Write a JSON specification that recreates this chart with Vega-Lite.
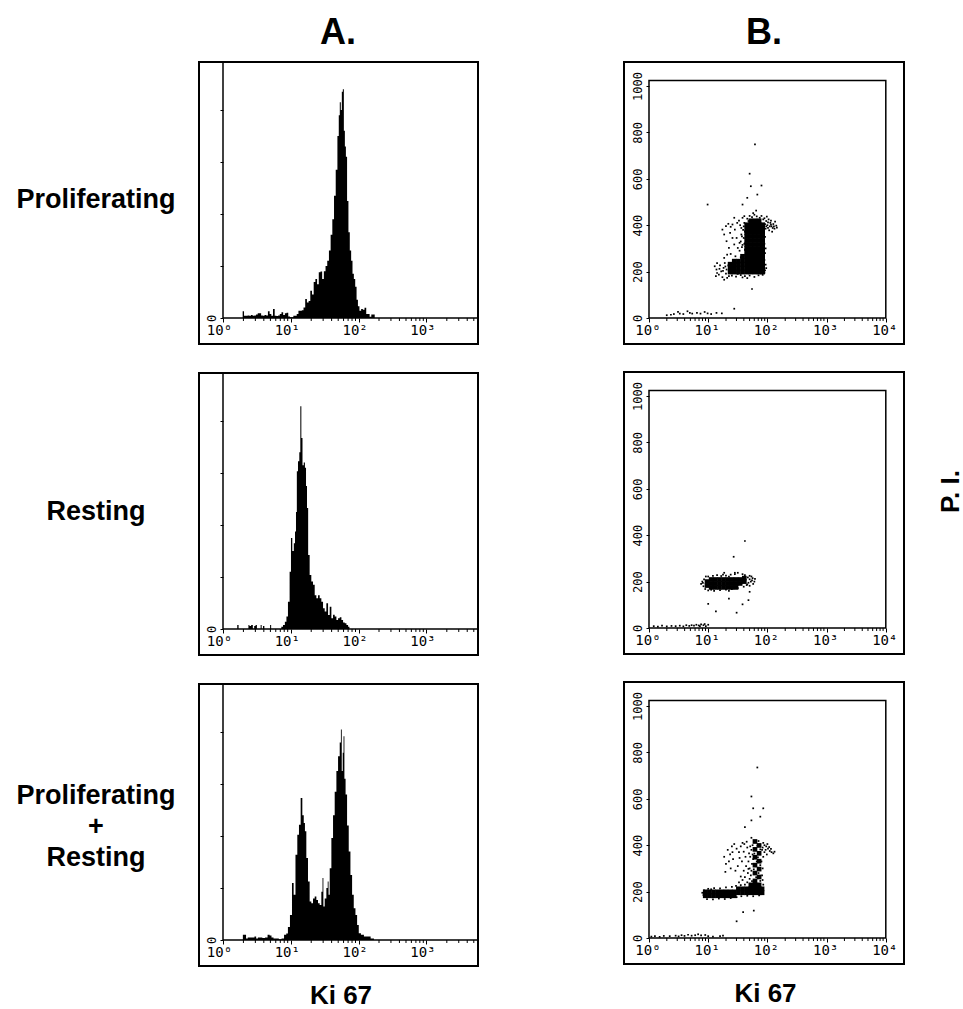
{
  "$schema": "https://vega.github.io/schema/vega-lite/v6.json",
  "background": "white",
  "padding": {"left": 14, "top": 13, "right": 0, "bottom": 0},
  "config": {
    "view": {"stroke": "black", "strokeWidth": 2},
    "axis": {"grid": false, "domain": false, "labelColor": "black", "tickColor": "black", "labelFont": "DejaVu Sans Mono", "titleFont": "Liberation Sans", "titleFontWeight": "bold", "titleColor": "black", "labelOverlap": false, "labelFlush": false, "labelBound": false, "tickWidth": 1}
  },
  "datasets": {
    "mta": [{"t":0.30103},{"t":0.47712},{"t":0.60206},{"t":0.69897},{"t":0.77815},{"t":0.8451},{"t":0.90309},{"t":0.95424},{"t":1.30103},{"t":1.47712},{"t":1.60206},{"t":1.69897},{"t":1.77815},{"t":1.8451},{"t":1.90309},{"t":1.95424},{"t":2.30103},{"t":2.47712},{"t":2.60206},{"t":2.69897},{"t":2.77815},{"t":2.8451},{"t":2.90309},{"t":2.95424},{"t":3.30103},{"t":3.47712},{"t":3.60206},{"t":3.69897}],
    "mtb": [{"t":0.30103},{"t":0.47712},{"t":0.60206},{"t":0.69897},{"t":0.77815},{"t":0.8451},{"t":0.90309},{"t":0.95424},{"t":1.30103},{"t":1.47712},{"t":1.60206},{"t":1.69897},{"t":1.77815},{"t":1.8451},{"t":1.90309},{"t":1.95424},{"t":2.30103},{"t":2.47712},{"t":2.60206},{"t":2.69897},{"t":2.77815},{"t":2.8451},{"t":2.90309},{"t":2.95424},{"t":3.30103},{"t":3.47712},{"t":3.60206},{"t":3.69897},{"t":3.77815},{"t":3.8451},{"t":3.90309},{"t":3.95424}],
    "h1": [
      {"x":0.28,"n":0},{"x":0.30,"n":2.6},{"x":0.32,"n":0.9},{"x":0.35,"n":0.9},{"x":0.375,"n":1.0},{"x":0.40,"n":0.9},{"x":0.425,"n":1.2},{"x":0.45,"n":0.9},{"x":0.475,"n":1.0},{"x":0.50,"n":1.3},{"x":0.525,"n":1.8},{"x":0.55,"n":1.8},{"x":0.575,"n":1.0},{"x":0.60,"n":0.9},{"x":0.625,"n":1.2},{"x":0.65,"n":1.0},{"x":0.675,"n":2.6},{"x":0.70,"n":1.5},{"x":0.725,"n":0.9},{"x":0.75,"n":3.5},{"x":0.775,"n":0.9},{"x":0.80,"n":0.8},{"x":0.825,"n":1.0},{"x":0.85,"n":1.5},{"x":0.875,"n":2.2},{"x":0.90,"n":1.2},{"x":0.925,"n":1.8},{"x":0.95,"n":2.0},{"x":0.975,"n":0.6},{"x":1.00,"n":0.3},{"x":1.025,"n":0.3},{"x":1.05,"n":0.9},{"x":1.075,"n":0.9},{"x":1.10,"n":1.5},{"x":1.125,"n":2.8},{"x":1.15,"n":2.8},{"x":1.175,"n":3.0},{"x":1.20,"n":4.0},{"x":1.225,"n":7.3},{"x":1.25,"n":6.0},{"x":1.275,"n":6.5},{"x":1.30,"n":10.5},{"x":1.325,"n":9.0},{"x":1.35,"n":13.8},{"x":1.375,"n":15.0},{"x":1.40,"n":13.0},{"x":1.425,"n":17.6},{"x":1.45,"n":17.9},{"x":1.475,"n":15.0},{"x":1.50,"n":18.0},{"x":1.525,"n":20.0},{"x":1.55,"n":22},{"x":1.575,"n":26},{"x":1.60,"n":32},{"x":1.625,"n":38},{"x":1.65,"n":47},{"x":1.675,"n":57},{"x":1.70,"n":70},{"x":1.715,"n":78},{"x":1.73,"n":83},{"x":1.745,"n":80},{"x":1.76,"n":87},{"x":1.775,"n":88},{"x":1.79,"n":72},{"x":1.805,"n":66},{"x":1.82,"n":62},{"x":1.84,"n":45},{"x":1.86,"n":33},{"x":1.88,"n":26},{"x":1.90,"n":22},{"x":1.92,"n":17},{"x":1.94,"n":15},{"x":1.96,"n":12},{"x":1.98,"n":7},{"x":2.00,"n":4.5},{"x":2.025,"n":2.8},{"x":2.05,"n":3.5},{"x":2.075,"n":3.2},{"x":2.10,"n":3.9},{"x":2.125,"n":1.5},{"x":2.15,"n":1.5},{"x":2.175,"n":0.5},{"x":2.20,"n":1.3},{"x":2.225,"n":1.3},{"x":2.25,"n":0}
    ],
    "h2": [
      {"x":0.20,"n":0},{"x":0.22,"n":1.5},{"x":0.24,"n":0},{"x":0.37,"n":0},{"x":0.38,"n":1.5},{"x":0.40,"n":1.2},{"x":0.43,"n":1.5},{"x":0.45,"n":0},{"x":0.47,"n":1.2},{"x":0.49,"n":1.5},{"x":0.51,"n":0},{"x":0.55,"n":0},{"x":0.56,"n":1.5},{"x":0.58,"n":0},{"x":0.60,"n":1.2},{"x":0.62,"n":0},{"x":0.69,"n":0},{"x":0.70,"n":1.5},{"x":0.72,"n":0},{"x":0.85,"n":0},{"x":0.87,"n":0.9},{"x":0.90,"n":1.5},{"x":0.925,"n":2.8},{"x":0.946,"n":4.8},{"x":0.97,"n":10.5},{"x":0.995,"n":22},{"x":1.01,"n":35},{"x":1.034,"n":30},{"x":1.055,"n":33},{"x":1.069,"n":37.5},{"x":1.084,"n":45},{"x":1.094,"n":60.7},{"x":1.118,"n":64.5},{"x":1.133,"n":68},{"x":1.148,"n":85.7},{"x":1.163,"n":73.5},{"x":1.182,"n":63},{"x":1.20,"n":64},{"x":1.217,"n":62},{"x":1.232,"n":55},{"x":1.246,"n":46.5},{"x":1.266,"n":28.5},{"x":1.29,"n":20.8},{"x":1.315,"n":18.3},{"x":1.34,"n":17},{"x":1.365,"n":13},{"x":1.389,"n":11.8},{"x":1.414,"n":13},{"x":1.438,"n":11.8},{"x":1.463,"n":10.5},{"x":1.488,"n":8},{"x":1.512,"n":6.7},{"x":1.537,"n":9.9},{"x":1.562,"n":5.4},{"x":1.586,"n":8.6},{"x":1.611,"n":4.1},{"x":1.635,"n":5.5},{"x":1.66,"n":4.8},{"x":1.685,"n":3.5},{"x":1.709,"n":4.1},{"x":1.734,"n":4.5},{"x":1.759,"n":3.5},{"x":1.783,"n":2.5},{"x":1.808,"n":2.2},{"x":1.833,"n":1.5},{"x":1.857,"n":0.9},{"x":1.872,"n":0}
    ],
    "h3": [
      {"x":0.24,"n":0},{"x":0.256,"n":0},{"x":0.33,"n":2},{"x":0.35,"n":0.6},{"x":0.38,"n":1},{"x":0.41,"n":1},{"x":0.45,"n":1},{"x":0.478,"n":1.3},{"x":0.50,"n":0.6},{"x":0.53,"n":1},{"x":0.56,"n":1},{"x":0.60,"n":0.8},{"x":0.64,"n":1},{"x":0.675,"n":2},{"x":0.70,"n":1.7},{"x":0.73,"n":1},{"x":0.76,"n":0.6},{"x":0.80,"n":0.6},{"x":0.847,"n":0.3},{"x":0.88,"n":0.6},{"x":0.921,"n":2},{"x":0.945,"n":2.5},{"x":0.970,"n":5},{"x":1.005,"n":9.6},{"x":1.03,"n":21.9},{"x":1.054,"n":17.4},{"x":1.084,"n":32.8},{"x":1.108,"n":40.5},{"x":1.133,"n":44.3},{"x":1.158,"n":54.6},{"x":1.182,"n":48},{"x":1.20,"n":45},{"x":1.217,"n":41.8},{"x":1.241,"n":31.5},{"x":1.266,"n":22.5},{"x":1.29,"n":14.8},{"x":1.315,"n":14.1},{"x":1.34,"n":16},{"x":1.365,"n":16.7},{"x":1.389,"n":15.4},{"x":1.414,"n":14.1},{"x":1.438,"n":13.5},{"x":1.463,"n":18.6},{"x":1.473,"n":23.8},{"x":1.488,"n":12.9},{"x":1.512,"n":16},{"x":1.537,"n":20},{"x":1.552,"n":22.5},{"x":1.562,"n":17.4},{"x":1.586,"n":27.6},{"x":1.611,"n":39.2},{"x":1.635,"n":48},{"x":1.66,"n":57},{"x":1.685,"n":65},{"x":1.709,"n":70.7},{"x":1.734,"n":76},{"x":1.744,"n":81},{"x":1.759,"n":65},{"x":1.773,"n":72},{"x":1.783,"n":78.4},{"x":1.798,"n":62},{"x":1.818,"n":56},{"x":1.842,"n":44},{"x":1.867,"n":34},{"x":1.892,"n":25},{"x":1.916,"n":17.4},{"x":1.941,"n":12.2},{"x":1.966,"n":9.6},{"x":1.99,"n":5.8},{"x":2.015,"n":2.6},{"x":2.054,"n":2},{"x":2.103,"n":1.3},{"x":2.153,"n":1.3},{"x":2.202,"n":0.6},{"x":2.25,"n":0}
    ],
    "s1": [
      {"x":1.37,"y":198,"k":"c"},{"x":1.44,"y":198,"k":"c"},{"x":1.51,"y":198,"k":"c"},{"x":1.58,"y":198,"k":"c"},{"x":1.65,"y":198,"k":"c"},{"x":1.72,"y":198,"k":"c"},{"x":1.79,"y":198,"k":"c"},{"x":1.86,"y":198,"k":"c"},{"x":1.92,"y":198,"k":"c"},
      {"x":1.37,"y":215,"k":"c"},{"x":1.44,"y":215,"k":"c"},{"x":1.51,"y":215,"k":"c"},{"x":1.58,"y":215,"k":"c"},{"x":1.65,"y":215,"k":"c"},{"x":1.72,"y":215,"k":"c"},{"x":1.79,"y":215,"k":"c"},{"x":1.86,"y":215,"k":"c"},{"x":1.92,"y":215,"k":"c"},
      {"x":1.37,"y":232,"k":"c"},{"x":1.44,"y":232,"k":"c"},{"x":1.51,"y":232,"k":"c"},{"x":1.58,"y":232,"k":"c"},{"x":1.65,"y":232,"k":"c"},{"x":1.72,"y":232,"k":"c"},{"x":1.79,"y":232,"k":"c"},{"x":1.86,"y":232,"k":"c"},{"x":1.92,"y":232,"k":"c"},
      {"x":1.44,"y":245,"k":"c"},{"x":1.51,"y":245,"k":"c"},{"x":1.58,"y":249,"k":"c"},{"x":1.58,"y":266,"k":"c"},
      {"x":1.65,"y":249,"k":"c"},{"x":1.65,"y":266,"k":"c"},{"x":1.65,"y":283,"k":"c"},{"x":1.65,"y":300,"k":"c"},{"x":1.65,"y":317,"k":"c"},{"x":1.65,"y":334,"k":"c"},{"x":1.65,"y":351,"k":"c"},{"x":1.65,"y":368,"k":"c"},{"x":1.65,"y":385,"k":"c"},{"x":1.65,"y":402,"k":"c"},
      {"x":1.72,"y":249,"k":"c"},{"x":1.72,"y":266,"k":"c"},{"x":1.72,"y":283,"k":"c"},{"x":1.72,"y":300,"k":"c"},{"x":1.72,"y":317,"k":"c"},{"x":1.72,"y":334,"k":"c"},{"x":1.72,"y":351,"k":"c"},{"x":1.72,"y":368,"k":"c"},{"x":1.72,"y":385,"k":"c"},{"x":1.72,"y":402,"k":"c"},{"x":1.72,"y":419,"k":"c"},
      {"x":1.79,"y":249,"k":"c"},{"x":1.79,"y":266,"k":"c"},{"x":1.79,"y":283,"k":"c"},{"x":1.79,"y":300,"k":"c"},{"x":1.79,"y":317,"k":"c"},{"x":1.79,"y":334,"k":"c"},{"x":1.79,"y":351,"k":"c"},{"x":1.79,"y":368,"k":"c"},{"x":1.79,"y":385,"k":"c"},{"x":1.79,"y":402,"k":"c"},{"x":1.79,"y":419,"k":"c"},
      {"x":1.86,"y":249,"k":"c"},{"x":1.86,"y":266,"k":"c"},{"x":1.86,"y":283,"k":"c"},{"x":1.86,"y":300,"k":"c"},{"x":1.86,"y":317,"k":"c"},{"x":1.86,"y":334,"k":"c"},{"x":1.86,"y":351,"k":"c"},{"x":1.86,"y":368,"k":"c"},{"x":1.86,"y":385,"k":"c"},{"x":1.86,"y":402,"k":"c"},{"x":1.86,"y":419,"k":"c"},
      {"x":1.92,"y":249,"k":"c"},{"x":1.92,"y":266,"k":"c"},{"x":1.92,"y":283,"k":"c"},{"x":1.92,"y":300,"k":"c"},{"x":1.92,"y":317,"k":"c"},{"x":1.92,"y":334,"k":"c"},{"x":1.92,"y":351,"k":"c"},{"x":1.92,"y":368,"k":"c"},{"x":1.92,"y":385,"k":"c"},{"x":1.92,"y":402,"k":"c"},
      {"x":0.30,"y":12,"k":"d"},{"x":0.37,"y":14,"k":"d"},{"x":0.42,"y":17,"k":"d"},{"x":0.49,"y":26,"k":"d"},{"x":0.52,"y":19,"k":"d"},{"x":0.58,"y":17,"k":"d"},{"x":0.65,"y":29,"k":"d"},{"x":0.69,"y":22,"k":"d"},{"x":0.73,"y":19,"k":"d"},{"x":0.81,"y":22,"k":"d"},{"x":0.87,"y":19,"k":"d"},{"x":0.94,"y":26,"k":"d"},{"x":0.99,"y":20,"k":"d"},{"x":1.05,"y":17,"k":"d"},{"x":1.14,"y":22,"k":"d"},{"x":1.23,"y":20,"k":"d"},{"x":1.44,"y":40,"k":"d"},
      {"x":1.79,"y":748,"k":"d"},{"x":1.70,"y":622,"k":"d"},{"x":1.72,"y":568,"k":"d"},{"x":1.90,"y":571,"k":"d"},{"x":1.83,"y":532,"k":"d"},{"x":1.66,"y":518,"k":"d"},{"x":1.58,"y":489,"k":"d"},{"x":1.81,"y":463,"k":"d"},{"x":1.74,"y":125,"k":"d"},{"x":0.99,"y":489,"k":"d"},
      {"x":1.27,"y":360,"k":"d"},{"x":1.30,"y":396,"k":"d"},{"x":1.34,"y":406,"k":"d"},{"x":1.38,"y":393,"k":"d"},{"x":1.41,"y":403,"k":"d"},{"x":1.45,"y":381,"k":"d"},{"x":1.49,"y":410,"k":"d"},{"x":1.52,"y":420,"k":"d"},{"x":1.31,"y":331,"k":"d"},{"x":1.35,"y":302,"k":"d"},{"x":1.38,"y":276,"k":"d"},{"x":1.32,"y":273,"k":"d"},{"x":1.44,"y":317,"k":"d"},{"x":1.48,"y":345,"k":"d"},{"x":1.50,"y":302,"k":"d"},{"x":1.46,"y":266,"k":"d"},{"x":1.53,"y":324,"k":"d"},{"x":1.41,"y":345,"k":"d"},{"x":1.37,"y":367,"k":"d"},{"x":1.27,"y":259,"k":"d"},{"x":1.24,"y":381,"k":"d"},{"x":1.44,"y":432,"k":"d"},{"x":1.56,"y":388,"k":"d"},{"x":1.58,"y":432,"k":"d"},{"x":1.61,"y":439,"k":"d"},
      {"x":1.11,"y":223,"k":"d"},{"x":1.14,"y":209,"k":"d"},{"x":1.15,"y":237,"k":"d"},{"x":1.18,"y":187,"k":"d"},{"x":1.20,"y":227,"k":"d"},{"x":1.22,"y":201,"k":"d"},{"x":1.24,"y":176,"k":"d"},{"x":1.26,"y":216,"k":"d"},{"x":1.28,"y":237,"k":"d"},{"x":1.30,"y":191,"k":"d"},{"x":1.31,"y":209,"k":"d"},{"x":1.32,"y":173,"k":"d"},{"x":1.34,"y":227,"k":"d"},{"x":1.15,"y":194,"k":"d"},{"x":1.13,"y":180,"k":"d"},{"x":1.27,"y":165,"k":"d"},{"x":1.35,"y":180,"k":"d"},{"x":1.29,"y":222,"k":"d"},{"x":1.25,"y":203,"k":"d"},{"x":1.19,"y":212,"k":"d"},
      {"x":1.53,"y":290,"k":"d"},{"x":1.55,"y":330,"k":"d"},{"x":1.56,"y":360,"k":"d"},{"x":1.54,"y":400,"k":"d"},{"x":1.57,"y":305,"k":"d"},{"x":1.59,"y":380,"k":"d"},{"x":1.60,"y":345,"k":"d"},{"x":1.61,"y":410,"k":"d"},{"x":1.62,"y":295,"k":"d"},{"x":1.60,"y":270,"k":"d"},{"x":1.55,"y":262,"k":"d"},{"x":1.58,"y":315,"k":"d"},{"x":1.61,"y":320,"k":"d"},{"x":1.57,"y":352,"k":"d"},{"x":1.60,"y":395,"k":"d"},{"x":1.62,"y":372,"k":"d"},
      {"x":1.66,"y":428,"k":"d"},{"x":1.70,"y":440,"k":"d"},{"x":1.74,"y":435,"k":"d"},{"x":1.78,"y":445,"k":"d"},{"x":1.82,"y":438,"k":"d"},{"x":1.87,"y":432,"k":"d"},{"x":1.90,"y":440,"k":"d"},{"x":1.76,"y":452,"k":"d"},{"x":1.68,"y":418,"k":"d"},{"x":1.93,"y":425,"k":"d"},
      {"x":1.40,"y":183,"k":"d"},{"x":1.47,"y":178,"k":"d"},{"x":1.55,"y":185,"k":"d"},{"x":1.62,"y":180,"k":"d"},{"x":1.70,"y":183,"k":"d"},{"x":1.78,"y":177,"k":"d"},{"x":1.85,"y":184,"k":"d"},{"x":1.92,"y":186,"k":"d"},{"x":1.66,"y":172,"k":"d"},{"x":1.50,"y":190,"k":"d"},{"x":1.58,"y":175,"k":"d"},
      {"x":1.96,"y":205,"k":"d"},{"x":1.97,"y":230,"k":"d"},{"x":1.95,"y":250,"k":"d"},{"x":1.98,"y":215,"k":"d"},{"x":1.96,"y":280,"k":"d"},{"x":1.95,"y":320,"k":"d"},{"x":1.96,"y":350,"k":"d"},{"x":1.97,"y":300,"k":"d"},{"x":1.95,"y":195,"k":"d"},
      {"x":1.95,"y":430,"k":"d"},{"x":1.98,"y":418,"k":"d"},{"x":2.00,"y":400,"k":"d"},{"x":2.02,"y":425,"k":"d"},{"x":2.05,"y":410,"k":"d"},{"x":2.07,"y":395,"k":"d"},{"x":2.10,"y":405,"k":"d"},{"x":2.12,"y":385,"k":"d"},{"x":2.15,"y":398,"k":"d"},{"x":1.97,"y":385,"k":"d"},{"x":2.03,"y":378,"k":"d"},{"x":2.08,"y":372,"k":"d"},{"x":1.99,"y":437,"k":"d"},{"x":2.13,"y":415,"k":"d"},{"x":1.96,"y":405,"k":"d"},{"x":2.01,"y":388,"k":"d"},{"x":2.06,"y":420,"k":"d"},{"x":2.09,"y":388,"k":"d"},{"x":1.94,"y":372,"k":"d"},{"x":2.04,"y":395,"k":"d"},{"x":2.11,"y":395,"k":"d"},{"x":2.06,"y":402,"k":"d"},{"x":2.16,"y":390,"k":"d"},{"x":2.01,"y":412,"k":"d"},{"x":1.98,"y":395,"k":"d"}
    ],
    "s2": [
      {"x":0.98,"y":183,"k":"c"},{"x":0.98,"y":200,"k":"c"},
      {"x":1.05,"y":175,"k":"c"},{"x":1.05,"y":192,"k":"c"},{"x":1.05,"y":209,"k":"c"},
      {"x":1.12,"y":175,"k":"c"},{"x":1.12,"y":192,"k":"c"},{"x":1.12,"y":209,"k":"c"},
      {"x":1.19,"y":175,"k":"c"},{"x":1.19,"y":192,"k":"c"},{"x":1.19,"y":209,"k":"c"},
      {"x":1.26,"y":175,"k":"c"},{"x":1.26,"y":192,"k":"c"},{"x":1.26,"y":209,"k":"c"},
      {"x":1.33,"y":175,"k":"c"},{"x":1.33,"y":192,"k":"c"},{"x":1.33,"y":209,"k":"c"},
      {"x":1.40,"y":175,"k":"c"},{"x":1.40,"y":192,"k":"c"},{"x":1.40,"y":209,"k":"c"},
      {"x":1.47,"y":175,"k":"c"},{"x":1.47,"y":192,"k":"c"},{"x":1.47,"y":209,"k":"c"},
      {"x":1.54,"y":192,"k":"c"},{"x":1.54,"y":209,"k":"c"},{"x":1.61,"y":200,"k":"c"},{"x":1.61,"y":215,"k":"c"},
      {"x":0.88,"y":190,"k":"d"},{"x":0.90,"y":200,"k":"d"},{"x":0.92,"y":180,"k":"d"},{"x":0.93,"y":210,"k":"d"},{"x":0.95,"y":168,"k":"d"},{"x":0.96,"y":222,"k":"d"},{"x":0.91,"y":195,"k":"d"},
      {"x":1.00,"y":222,"k":"d"},{"x":1.08,"y":225,"k":"d"},{"x":1.15,"y":228,"k":"d"},{"x":1.22,"y":224,"k":"d"},{"x":1.30,"y":226,"k":"d"},{"x":1.38,"y":230,"k":"d"},{"x":1.45,"y":232,"k":"d"},{"x":1.50,"y":238,"k":"d"},{"x":1.58,"y":232,"k":"d"},{"x":1.62,"y":228,"k":"d"},{"x":1.70,"y":225,"k":"d"},{"x":1.25,"y":230,"k":"d"},{"x":1.35,"y":222,"k":"d"},
      {"x":1.68,"y":195,"k":"d"},{"x":1.70,"y":210,"k":"d"},{"x":1.72,"y":200,"k":"d"},{"x":1.75,"y":215,"k":"d"},{"x":1.78,"y":200,"k":"d"},{"x":1.76,"y":190,"k":"d"},{"x":1.70,"y":182,"k":"d"},{"x":1.66,"y":188,"k":"d"},{"x":1.73,"y":222,"k":"d"},{"x":1.79,"y":212,"k":"d"},{"x":1.67,"y":218,"k":"d"},{"x":1.74,"y":205,"k":"d"},
      {"x":1.00,"y":162,"k":"d"},{"x":1.10,"y":160,"k":"d"},{"x":1.20,"y":163,"k":"d"},{"x":1.30,"y":165,"k":"d"},{"x":1.40,"y":168,"k":"d"},{"x":1.50,"y":172,"k":"d"},{"x":1.60,"y":178,"k":"d"},{"x":1.65,"y":185,"k":"d"},{"x":1.05,"y":165,"k":"d"},{"x":1.35,"y":160,"k":"d"},
      {"x":1.62,"y":375,"k":"d"},{"x":1.43,"y":307,"k":"d"},{"x":1.27,"y":238,"k":"d"},{"x":1.45,"y":238,"k":"d"},{"x":1.00,"y":104,"k":"d"},{"x":1.13,"y":72,"k":"d"},{"x":1.35,"y":127,"k":"d"},{"x":1.48,"y":66,"k":"d"},{"x":1.58,"y":102,"k":"d"},{"x":1.68,"y":120,"k":"d"},{"x":1.70,"y":156,"k":"d"},
      {"x":0.08,"y":8,"k":"d"},{"x":0.15,"y":6,"k":"d"},{"x":0.22,"y":10,"k":"d"},{"x":0.30,"y":7,"k":"d"},{"x":0.38,"y":9,"k":"d"},{"x":0.45,"y":8,"k":"d"},{"x":0.52,"y":10,"k":"d"},{"x":0.58,"y":7,"k":"d"},{"x":0.63,"y":12,"k":"d"},{"x":0.68,"y":9,"k":"d"},{"x":0.72,"y":12,"k":"d"},{"x":0.76,"y":10,"k":"d"},{"x":0.80,"y":14,"k":"d"},{"x":0.84,"y":11,"k":"d"},{"x":0.88,"y":16,"k":"d"},{"x":0.92,"y":12,"k":"d"},{"x":0.96,"y":8,"k":"d"},{"x":1.00,"y":14,"k":"d"},{"x":0.86,"y":8,"k":"d"},{"x":0.94,"y":17,"k":"d"}
    ],
    "s3": [
      {"x":0.95,"y":182,"k":"c"},{"x":1.02,"y":182,"k":"c"},{"x":1.09,"y":182,"k":"c"},{"x":1.16,"y":182,"k":"c"},{"x":1.23,"y":182,"k":"c"},{"x":1.30,"y":182,"k":"c"},{"x":1.37,"y":182,"k":"c"},{"x":1.44,"y":182,"k":"c"},
      {"x":0.95,"y":199,"k":"c"},{"x":1.02,"y":199,"k":"c"},{"x":1.09,"y":199,"k":"c"},{"x":1.16,"y":199,"k":"c"},{"x":1.23,"y":199,"k":"c"},{"x":1.30,"y":199,"k":"c"},{"x":1.37,"y":199,"k":"c"},{"x":1.44,"y":199,"k":"c"},
      {"x":1.51,"y":195,"k":"c"},{"x":1.58,"y":195,"k":"c"},{"x":1.65,"y":195,"k":"c"},{"x":1.72,"y":195,"k":"c"},{"x":1.79,"y":195,"k":"c"},{"x":1.86,"y":195,"k":"c"},{"x":1.91,"y":195,"k":"c"},
      {"x":1.51,"y":212,"k":"c"},{"x":1.58,"y":212,"k":"c"},{"x":1.65,"y":212,"k":"c"},{"x":1.72,"y":212,"k":"c"},{"x":1.79,"y":212,"k":"c"},{"x":1.86,"y":212,"k":"c"},{"x":1.91,"y":212,"k":"c"},
      {"x":1.72,"y":229,"k":"c"},{"x":1.79,"y":229,"k":"c"},{"x":1.86,"y":229,"k":"c"},
      {"x":1.79,"y":246,"k":"c"},{"x":1.79,"y":280,"k":"c"},{"x":1.79,"y":314,"k":"c"},{"x":1.79,"y":348,"k":"c"},{"x":1.79,"y":382,"k":"c"},{"x":1.79,"y":416,"k":"c"},
      {"x":1.86,"y":263,"k":"c"},{"x":1.86,"y":297,"k":"c"},{"x":1.86,"y":331,"k":"c"},{"x":1.86,"y":365,"k":"c"},{"x":1.86,"y":399,"k":"c"},
      {"x":1.81,"y":262,"k":"d"},{"x":1.77,"y":296,"k":"d"},{"x":1.82,"y":330,"k":"d"},{"x":1.78,"y":364,"k":"d"},{"x":1.83,"y":398,"k":"d"},{"x":1.88,"y":246,"k":"d"},{"x":1.85,"y":280,"k":"d"},{"x":1.88,"y":314,"k":"d"},{"x":1.84,"y":348,"k":"d"},{"x":1.88,"y":382,"k":"d"},{"x":1.85,"y":418,"k":"d"},
      {"x":0.04,"y":6,"k":"d"},{"x":0.10,"y":8,"k":"d"},{"x":0.18,"y":5,"k":"d"},{"x":0.25,"y":9,"k":"d"},{"x":0.35,"y":8,"k":"d"},{"x":0.45,"y":10,"k":"d"},{"x":0.50,"y":7,"k":"d"},{"x":0.55,"y":12,"k":"d"},{"x":0.60,"y":9,"k":"d"},{"x":0.66,"y":14,"k":"d"},{"x":0.72,"y":10,"k":"d"},{"x":0.78,"y":12,"k":"d"},{"x":0.83,"y":16,"k":"d"},{"x":0.88,"y":11,"k":"d"},{"x":0.95,"y":13,"k":"d"},{"x":1.00,"y":8,"k":"d"},{"x":1.08,"y":6,"k":"d"},{"x":1.20,"y":8,"k":"d"},{"x":1.25,"y":10,"k":"d"},
      {"x":1.83,"y":735,"k":"d"},{"x":1.73,"y":610,"k":"d"},{"x":1.76,"y":559,"k":"d"},{"x":1.93,"y":559,"k":"d"},{"x":1.88,"y":523,"k":"d"},{"x":1.73,"y":507,"k":"d"},{"x":1.62,"y":478,"k":"d"},{"x":1.73,"y":432,"k":"d"},{"x":1.59,"y":112,"k":"d"},{"x":1.77,"y":118,"k":"d"},{"x":1.48,"y":72,"k":"d"},
      {"x":0.90,"y":195,"k":"d"},{"x":0.92,"y":185,"k":"d"},{"x":0.93,"y":205,"k":"d"},{"x":1.00,"y":212,"k":"d"},{"x":1.10,"y":215,"k":"d"},{"x":1.20,"y":214,"k":"d"},{"x":1.30,"y":218,"k":"d"},{"x":1.40,"y":220,"k":"d"},{"x":1.47,"y":225,"k":"d"},{"x":1.55,"y":228,"k":"d"},{"x":1.62,"y":230,"k":"d"},{"x":1.05,"y":210,"k":"d"},
      {"x":0.98,"y":168,"k":"d"},{"x":1.08,"y":166,"k":"d"},{"x":1.18,"y":170,"k":"d"},{"x":1.28,"y":168,"k":"d"},{"x":1.38,"y":172,"k":"d"},{"x":1.48,"y":176,"k":"d"},{"x":1.56,"y":180,"k":"d"},{"x":1.66,"y":182,"k":"d"},{"x":1.76,"y":180,"k":"d"},{"x":1.86,"y":184,"k":"d"},
      {"x":1.52,"y":240,"k":"d"},{"x":1.55,"y":265,"k":"d"},{"x":1.58,"y":250,"k":"d"},{"x":1.60,"y":290,"k":"d"},{"x":1.62,"y":262,"k":"d"},{"x":1.64,"y":310,"k":"d"},{"x":1.66,"y":240,"k":"d"},{"x":1.67,"y":280,"k":"d"},{"x":1.68,"y":330,"k":"d"},{"x":1.70,"y":255,"k":"d"},{"x":1.70,"y":300,"k":"d"},{"x":1.71,"y":350,"k":"d"},{"x":1.72,"y":270,"k":"d"},{"x":1.73,"y":380,"k":"d"},{"x":1.74,"y":320,"k":"d"},{"x":1.74,"y":245,"k":"d"},{"x":1.75,"y":400,"k":"d"},{"x":1.69,"y":365,"k":"d"},{"x":1.66,"y":390,"k":"d"},{"x":1.63,"y":350,"k":"d"},{"x":1.61,"y":405,"k":"d"},{"x":1.65,"y":415,"k":"d"},{"x":1.68,"y":298,"k":"d"},{"x":1.72,"y":232,"k":"d"},{"x":1.57,"y":330,"k":"d"},{"x":1.60,"y":372,"k":"d"},{"x":1.71,"y":395,"k":"d"},{"x":1.73,"y":290,"k":"d"},{"x":1.75,"y":360,"k":"d"},{"x":1.76,"y":340,"k":"d"},
      {"x":1.27,"y":350,"k":"d"},{"x":1.33,"y":380,"k":"d"},{"x":1.37,"y":360,"k":"d"},{"x":1.40,"y":395,"k":"d"},{"x":1.44,"y":405,"k":"d"},{"x":1.48,"y":385,"k":"d"},{"x":1.52,"y":370,"k":"d"},{"x":1.55,"y":395,"k":"d"},{"x":1.35,"y":330,"k":"d"},{"x":1.42,"y":340,"k":"d"},{"x":1.50,"y":310,"k":"d"},{"x":1.46,"y":290,"k":"d"},{"x":1.38,"y":300,"k":"d"},{"x":1.30,"y":320,"k":"d"},{"x":1.53,"y":345,"k":"d"},{"x":1.58,"y":410,"k":"d"},{"x":1.41,"y":370,"k":"d"},{"x":1.29,"y":285,"k":"d"},
      {"x":1.93,"y":410,"k":"d"},{"x":1.95,"y":400,"k":"d"},{"x":1.98,"y":395,"k":"d"},{"x":2.01,"y":385,"k":"d"},{"x":2.04,"y":375,"k":"d"},{"x":2.07,"y":370,"k":"d"},{"x":2.10,"y":365,"k":"d"},{"x":1.97,"y":380,"k":"d"},{"x":2.00,"y":405,"k":"d"},{"x":2.03,"y":392,"k":"d"},{"x":2.06,"y":384,"k":"d"},{"x":1.95,"y":370,"k":"d"},{"x":1.92,"y":390,"k":"d"},{"x":2.12,"y":372,"k":"d"},{"x":1.99,"y":360,"k":"d"},
      {"x":1.92,"y":300,"k":"d"},{"x":1.92,"y":250,"k":"d"},{"x":1.93,"y":350,"k":"d"},{"x":1.91,"y":270,"k":"d"},{"x":1.90,"y":330,"k":"d"},{"x":1.91,"y":380,"k":"d"},{"x":1.93,"y":230,"k":"d"}
    ]
  },
  "hconcat": [
    {
      "spacing": 26,
      "vconcat": [
        {
          "width": 279, "height": 282,
          "layer": [
            {"data": {"name": "h1"}, "mark": {"type": "area", "interpolate": "step", "color": "black"},
             "encoding": {
               "x": {"field": "x", "type": "quantitative", "scale": {"domain": [-0.354, 3.761], "nice": false, "zero": false},
                     "axis": {"values": [0,1,2,3],
                              "labelExpr": "datum.value == 0 ? '10⁰' : datum.value == 1 ? '10¹' : datum.value == 2 ? '10²' : '10³'",
                              "offset": -26, "tickSize": 4, "labelFontSize": 14, "labelPadding": 1, "labelOffset": -4,
                              "title": "A.", "titleX": 138.5, "titleY": -275, "titleFontSize": 36, "titleAlign": "center", "titleBaseline": "alphabetic"}},
               "y": {"field": "n", "type": "quantitative", "scale": {"domain": [-10, 98.46], "nice": false, "zero": false},
                     "axis": {"values": [0,10,20,30,40,50,60,70,80,90], "labelExpr": "datum.value == 0 ? '0' : ''", "offset": -24, "tickSize": 3,
                              "labelAngle": 270, "labelAlign": "center", "labelBaseline": "bottom", "labelFontSize": 12, "labelPadding": 2,
                              "title": "Proliferating", "titleX": -127.5, "titleY": 145.7, "titleAngle": 0, "titleFontSize": 27, "titleAlign": "center", "titleBaseline": "alphabetic"}},
               "y2": {"datum": 0}
             }},
            {"data": {"name": "mta"}, "mark": {"type": "rule", "color": "black", "strokeWidth": 1},
             "encoding": {"x": {"field": "t", "type": "quantitative"}, "y": {"datum": 0, "type": "quantitative"}, "y2": {"datum": -1.15}}},
            {"data": {"values": [{}]}, "mark": {"type": "rule", "color": "black", "strokeWidth": 1.5},
             "encoding": {"x": {"datum": 0, "type": "quantitative"}, "y": {"datum": 0, "type": "quantitative"}, "y2": {"datum": 98.46}}},
            {"data": {"values": [{}]}, "mark": {"type": "rule", "color": "black", "strokeWidth": 1.5},
             "encoding": {"x": {"datum": 0, "type": "quantitative"}, "x2": {"datum": 3.761}, "y": {"datum": 0, "type": "quantitative"}}}
          ]
        },
        {
          "width": 279, "height": 282,
          "layer": [
            {"data": {"name": "h2"}, "mark": {"type": "area", "interpolate": "step", "color": "black"},
             "encoding": {
               "x": {"field": "x", "type": "quantitative", "scale": {"domain": [-0.354, 3.761], "nice": false, "zero": false},
                     "axis": {"values": [0,1,2,3],
                              "labelExpr": "datum.value == 0 ? '10⁰' : datum.value == 1 ? '10¹' : datum.value == 2 ? '10²' : '10³'",
                              "offset": -26, "tickSize": 4, "labelFontSize": 14, "labelPadding": 1, "labelOffset": -4, "title": null}},
               "y": {"field": "n", "type": "quantitative", "scale": {"domain": [-10, 98.46], "nice": false, "zero": false},
                     "axis": {"values": [0,10,20,30,40,50,60,70,80,90], "labelExpr": "datum.value == 0 ? '0' : ''", "offset": -24, "tickSize": 3,
                              "labelAngle": 270, "labelAlign": "center", "labelBaseline": "bottom", "labelFontSize": 12, "labelPadding": 2,
                              "title": "Resting", "titleX": -127.5, "titleY": 146, "titleAngle": 0, "titleFontSize": 27, "titleAlign": "center", "titleBaseline": "alphabetic"}},
               "y2": {"datum": 0}
             }},
            {"data": {"name": "mta"}, "mark": {"type": "rule", "color": "black", "strokeWidth": 1},
             "encoding": {"x": {"field": "t", "type": "quantitative"}, "y": {"datum": 0, "type": "quantitative"}, "y2": {"datum": -1.15}}},
            {"data": {"values": [{}]}, "mark": {"type": "rule", "color": "black", "strokeWidth": 1.5},
             "encoding": {"x": {"datum": 0, "type": "quantitative"}, "y": {"datum": 0, "type": "quantitative"}, "y2": {"datum": 98.46}}},
            {"data": {"values": [{}]}, "mark": {"type": "rule", "color": "black", "strokeWidth": 1.5},
             "encoding": {"x": {"datum": 0, "type": "quantitative"}, "x2": {"datum": 3.761}, "y": {"datum": 0, "type": "quantitative"}}}
          ]
        },
        {
          "width": 279, "height": 282,
          "layer": [
            {"data": {"name": "h3"}, "mark": {"type": "area", "interpolate": "step", "color": "black"},
             "encoding": {
               "x": {"field": "x", "type": "quantitative", "scale": {"domain": [-0.354, 3.761], "nice": false, "zero": false},
                     "axis": {"values": [0,1,2,3],
                              "labelExpr": "datum.value == 0 ? '10⁰' : datum.value == 1 ? '10¹' : datum.value == 2 ? '10²' : '10³'",
                              "offset": -26, "tickSize": 4, "labelFontSize": 14, "labelPadding": 1, "labelOffset": -4,
                              "title": "Ki 67", "titleX": 141.5, "titleY": 63, "titleFontSize": 26, "titleAlign": "center", "titleBaseline": "alphabetic"}},
               "y": {"field": "n", "type": "quantitative", "scale": {"domain": [-10, 98.46], "nice": false, "zero": false},
                     "axis": {"values": [0,10,20,30,40,50,60,70,80,90], "labelExpr": "datum.value == 0 ? '0' : ''", "offset": -24, "tickSize": 3,
                              "labelAngle": 270, "labelAlign": "center", "labelBaseline": "bottom", "labelFontSize": 12, "labelPadding": 2,
                              "title": ["Proliferating", "+", "Resting"], "titleLineHeight": 31, "titleX": -127.5, "titleY": 119, "titleAngle": 0, "titleFontSize": 27, "titleAlign": "center", "titleBaseline": "alphabetic"}},
               "y2": {"datum": 0}
             }},
            {"data": {"name": "mta"}, "mark": {"type": "rule", "color": "black", "strokeWidth": 1},
             "encoding": {"x": {"field": "t", "type": "quantitative"}, "y": {"datum": 0, "type": "quantitative"}, "y2": {"datum": -1.15}}},
            {"data": {"values": [{}]}, "mark": {"type": "rule", "color": "black", "strokeWidth": 1.5},
             "encoding": {"x": {"datum": 0, "type": "quantitative"}, "y": {"datum": 0, "type": "quantitative"}, "y2": {"datum": 98.46}}},
            {"data": {"values": [{}]}, "mark": {"type": "rule", "color": "black", "strokeWidth": 1.5},
             "encoding": {"x": {"datum": 0, "type": "quantitative"}, "x2": {"datum": 3.761}, "y": {"datum": 0, "type": "quantitative"}}}
          ]
        }
      ]
    },
    {
      "spacing": 26,
      "vconcat": [
        {
          "width": 280, "height": 282,
          "layer": [
            {"data": {"values": [{}]}, "mark": {"type": "rect", "filled": false, "color": "black", "strokeWidth": 1.5},
             "encoding": {
               "x": {"datum": 0, "type": "quantitative", "scale": {"domain": [-0.4223, 4.3074], "nice": false, "zero": false},
                     "axis": {"values": [0,1,2,3,4],
                              "labelExpr": "datum.value == 0 ? '10⁰' : datum.value == 1 ? '10¹' : datum.value == 2 ? '10²' : datum.value == 3 ? '10³' : '10⁴'",
                              "offset": -26, "tickSize": 4, "labelFontSize": 14, "labelPadding": 1, "labelOffset": -1.5,
                              "title": "B.", "titleX": 139.5, "titleY": -275, "titleFontSize": 36, "titleAlign": "center", "titleBaseline": "alphabetic"}},
               "x2": {"datum": 4},
               "y": {"datum": 0, "type": "quantitative", "scale": {"domain": [-112.07, 1103.45], "nice": false, "zero": false},
                     "axis": {"values": [0,50,100,150,200,250,300,350,400,450,500,550,600,650,700,750,800,850,900,950,1000],
                              "labelExpr": "datum.value == 0 || datum.value == 200 || datum.value == 400 || datum.value == 600 || datum.value == 800 || datum.value == 1000 ? '' + datum.value : ''", "offset": -25, "tickSize": 3,
                              "labelAngle": 270, "labelAlign": "center", "labelBaseline": "bottom", "labelFontSize": 12, "labelPadding": 2, "title": null}},
               "y2": {"datum": 1024}
             }},
            {"data": {"name": "mtb"}, "mark": {"type": "rule", "color": "black", "strokeWidth": 1},
             "encoding": {"x": {"field": "t", "type": "quantitative"}, "y": {"datum": 0, "type": "quantitative"}, "y2": {"datum": -13}}},
            {"data": {"name": "s1"}, "mark": {"type": "point", "shape": "square", "filled": true, "color": "black", "opacity": 1},
             "encoding": {"x": {"field": "x", "type": "quantitative"}, "y": {"field": "y", "type": "quantitative"},
                          "size": {"field": "k", "type": "nominal", "scale": {"domain": ["c", "d"], "range": [22, 3]}, "legend": null}}}
          ]
        },
        {
          "width": 280, "height": 282,
          "layer": [
            {"data": {"values": [{}]}, "mark": {"type": "rect", "filled": false, "color": "black", "strokeWidth": 1.5},
             "encoding": {
               "x": {"datum": 0, "type": "quantitative", "scale": {"domain": [-0.4223, 4.3074], "nice": false, "zero": false},
                     "axis": {"values": [0,1,2,3,4],
                              "labelExpr": "datum.value == 0 ? '10⁰' : datum.value == 1 ? '10¹' : datum.value == 2 ? '10²' : datum.value == 3 ? '10³' : '10⁴'",
                              "offset": -26, "tickSize": 4, "labelFontSize": 14, "labelPadding": 1, "labelOffset": -1.5, "title": null}},
               "x2": {"datum": 4},
               "y": {"datum": 0, "type": "quantitative", "scale": {"domain": [-112.07, 1103.45], "nice": false, "zero": false},
                     "axis": {"values": [0,50,100,150,200,250,300,350,400,450,500,550,600,650,700,750,800,850,900,950,1000],
                              "labelExpr": "datum.value == 0 || datum.value == 200 || datum.value == 400 || datum.value == 600 || datum.value == 800 || datum.value == 1000 ? '' + datum.value : ''", "offset": -25, "tickSize": 3,
                              "labelAngle": 270, "labelAlign": "center", "labelBaseline": "bottom", "labelFontSize": 12, "labelPadding": 2,
                              "title": "P. I.", "titleX": 301, "titleY": 119, "titleAngle": 270, "titleFontSize": 26, "titleAlign": "center", "titleBaseline": "middle"}},
               "y2": {"datum": 1024}
             }},
            {"data": {"name": "mtb"}, "mark": {"type": "rule", "color": "black", "strokeWidth": 1},
             "encoding": {"x": {"field": "t", "type": "quantitative"}, "y": {"datum": 0, "type": "quantitative"}, "y2": {"datum": -13}}},
            {"data": {"name": "s2"}, "mark": {"type": "point", "shape": "square", "filled": true, "color": "black", "opacity": 1},
             "encoding": {"x": {"field": "x", "type": "quantitative"}, "y": {"field": "y", "type": "quantitative"},
                          "size": {"field": "k", "type": "nominal", "scale": {"domain": ["c", "d"], "range": [22, 3]}, "legend": null}}}
          ]
        },
        {
          "width": 280, "height": 282,
          "layer": [
            {"data": {"values": [{}]}, "mark": {"type": "rect", "filled": false, "color": "black", "strokeWidth": 1.5},
             "encoding": {
               "x": {"datum": 0, "type": "quantitative", "scale": {"domain": [-0.4223, 4.3074], "nice": false, "zero": false},
                     "axis": {"values": [0,1,2,3,4],
                              "labelExpr": "datum.value == 0 ? '10⁰' : datum.value == 1 ? '10¹' : datum.value == 2 ? '10²' : datum.value == 3 ? '10³' : '10⁴'",
                              "offset": -26, "tickSize": 4, "labelFontSize": 14, "labelPadding": 1, "labelOffset": -1.5,
                              "title": "Ki 67", "titleX": 141, "titleY": 63, "titleFontSize": 26, "titleAlign": "center", "titleBaseline": "alphabetic"}},
               "x2": {"datum": 4},
               "y": {"datum": 0, "type": "quantitative", "scale": {"domain": [-112.07, 1103.45], "nice": false, "zero": false},
                     "axis": {"values": [0,50,100,150,200,250,300,350,400,450,500,550,600,650,700,750,800,850,900,950,1000],
                              "labelExpr": "datum.value == 0 || datum.value == 200 || datum.value == 400 || datum.value == 600 || datum.value == 800 || datum.value == 1000 ? '' + datum.value : ''", "offset": -25, "tickSize": 3,
                              "labelAngle": 270, "labelAlign": "center", "labelBaseline": "bottom", "labelFontSize": 12, "labelPadding": 2, "title": null}},
               "y2": {"datum": 1024}
             }},
            {"data": {"name": "mtb"}, "mark": {"type": "rule", "color": "black", "strokeWidth": 1},
             "encoding": {"x": {"field": "t", "type": "quantitative"}, "y": {"datum": 0, "type": "quantitative"}, "y2": {"datum": -13}}},
            {"data": {"name": "s3"}, "mark": {"type": "point", "shape": "square", "filled": true, "color": "black", "opacity": 1},
             "encoding": {"x": {"field": "x", "type": "quantitative"}, "y": {"field": "y", "type": "quantitative"},
                          "size": {"field": "k", "type": "nominal", "scale": {"domain": ["c", "d"], "range": [22, 3]}, "legend": null}}}
          ]
        }
      ]
    }
  ],
  "spacing": 143
}
